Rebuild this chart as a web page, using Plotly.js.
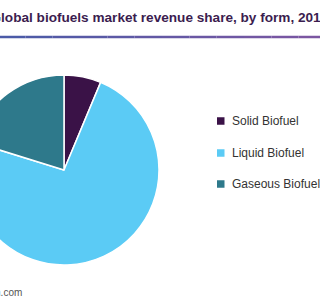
<!DOCTYPE html>
<html>
<head>
<meta charset="utf-8">
<script src="https://cdn.plot.ly/plotly-3.0.1.min.js"></script>
<style>
html,body{margin:0;padding:0;overflow:hidden;background:#fff;width:324px;height:300px;}
#chart{position:absolute;left:-100px;top:0;width:420px;height:300px;}
</style>
</head>
<body>
<div id="chart"></div>
<script>
var categories = ["Solid Biofuel", "Liquid Biofuel", "Gaseous Biofuel"];
var shares = [6.3, 73.5, 20.2];
var sliceColors = ["#3a1247", "#5bcbf5", "#2e798b"];
var titleText = "Global biofuels market revenue share, by form, 2016";
var sourceText = "Source: www.grandviewresearch.com";

var W = 420, H = 300, OFF = 100;
function px(x){ return (x + OFF) / W; }
function py(y){ return 1 - y / H; }

var shapes = [];
var annotations = [];

// gradient rule under title
var c0 = [75, 90, 167], c1 = [123, 86, 161];
var segs = 12;
for (var i = 0; i < segs; i++) {
  var t = i / (segs - 1);
  var c = c0.map(function(v, k){ return Math.round(v + (c1[k] - v) * t); });
  shapes.push({type:'line', xref:'paper', yref:'paper',
    x0: px(-2 + i * 328 / segs), x1: px(-2 + (i + 1) * 328 / segs),
    y0: py(37), y1: py(37),
    line:{color:'rgb(' + c.join(',') + ')', width:2.5}});
}

// legend
var rowY = [121, 153, 184];
categories.forEach(function(name, i){
  shapes.push({type:'rect', xref:'paper', yref:'paper',
    x0: px(217), x1: px(224.5), y0: py(rowY[i] - 3.75), y1: py(rowY[i] + 3.75),
    fillcolor: sliceColors[i], line:{width:0}});
  annotations.push({xref:'paper', yref:'paper', x: px(230), y: py(rowY[i]),
    xanchor:'left', yanchor:'middle', showarrow:false, text: name,
    font:{family:'Arial, Liberation Sans, sans-serif', size:12, color:'#333333'}});
});

annotations.push({xref:'paper', yref:'paper', x: px(23.5), y: py(292.5),
  xanchor:'right', yanchor:'middle', showarrow:false, text: sourceText,
  font:{family:'Arial, Liberation Sans, sans-serif', size:10, color:'#555555'}});

var cx = 64, cy = 170, r = 95;
var trace = {
  type:'pie',
  labels: categories,
  values: shares,
  sort:false,
  direction:'clockwise',
  rotation:0,
  textinfo:'none',
  hoverinfo:'label+percent',
  showlegend:false,
  marker:{colors: sliceColors, line:{color:'#ffffff', width:1.5}},
  domain:{x:[px(cx - r), px(cx + r)], y:[py(cy + r), py(cy - r)]}
};

var layout = {
  width: W, height: H,
  margin:{l:0, r:0, t:0, b:0},
  paper_bgcolor:'#ffffff',
  plot_bgcolor:'#ffffff',
  title:{text: titleText, xref:'paper', x: px(-9.5), xanchor:'left',
    yref:'container', y: 1 - 17 / H, yanchor:'middle',
    font:{family:'Arial, Liberation Sans, sans-serif', size:13.6, color:'#3b1d4f', weight:'bold'}},
  shapes: shapes,
  annotations: annotations
};

Plotly.newPlot('chart', [trace], layout, {displayModeBar:false, staticPlot:true});
</script>
</body>
</html>
